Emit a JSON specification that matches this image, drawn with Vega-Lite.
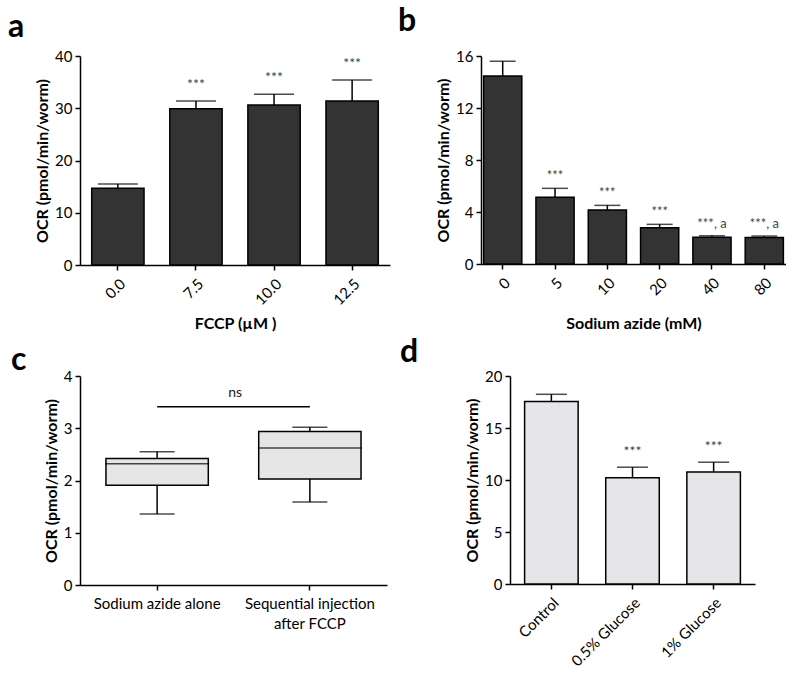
{
  "$schema": "https://vega.github.io/schema/vega-lite/v6.json",
  "background": "white",
  "padding": {"left": 8, "top": 5, "right": 0, "bottom": 0},
  "config": {
    "view": {"stroke": null},
    "font": "Lato",
    "axis": {"domainColor": "black", "domainWidth": 1.5, "tickColor": "black", "tickWidth": 1.5, "tickSize": 5, "labelFont": "Lato", "labelFontSize": 15, "labelColor": "black", "titleFont": "Lato", "titleFontSize": 16, "titleFontWeight": "bold", "titleColor": "black", "grid": false, "labelPadding": 3, "titlePadding": 4},
    "title": {"font": "Lato", "fontSize": 32, "fontWeight": "bold", "anchor": "start", "color": "black", "frame": "group"}
  },
  "spacing": 4,
  "align": "none",
  "vconcat": [
    {
      "spacing": 8,
      "align": "none",
      "hconcat": [
        {
          "width": 310, "height": 209,
          "title": {"text": "a", "dx": -72, "offset": 5},
          "data": {"values": [
            {"fccp": "0.0", "ocr": 14.7, "err": 15.5, "sig": ""},
            {"fccp": "7.5", "ocr": 29.9, "err": 31.4, "sig": "***"},
            {"fccp": "10.0", "ocr": 30.6, "err": 32.7, "sig": "***"},
            {"fccp": "12.5", "ocr": 31.4, "err": 35.4, "sig": "***"}
          ]},
          "encoding": {"x": {"field": "fccp", "type": "ordinal", "sort": null, "scale": {"paddingInner": 0.33, "paddingOuter": 0.15}, "axis": {"labelAngle": -45, "labelPadding": 6, "title": "FCCP (µM )", "titlePadding": 8}}},
          "layer": [
            {"mark": {"type": "bar", "fill": "#333333", "stroke": "black", "strokeWidth": 1.5}, "encoding": {"y": {"field": "ocr", "type": "quantitative", "scale": {"domain": [0, 40]}, "title": "OCR (pmol/min/worm)", "axis": {"values": [0, 10, 20, 30, 40]}}}},
            {"mark": {"type": "rule", "strokeWidth": 1.5, "color": "black"}, "encoding": {"y": {"field": "ocr", "type": "quantitative", "title": "OCR (pmol/min/worm)"}, "y2": {"field": "err"}}},
            {"mark": {"type": "tick", "thickness": 1.5, "size": 40, "color": "black"}, "encoding": {"y": {"field": "err", "type": "quantitative", "title": "OCR (pmol/min/worm)"}}},
            {"mark": {"type": "text", "dy": -16, "fontSize": 14, "color": "#444444", "baseline": "middle"}, "encoding": {"y": {"field": "err", "type": "quantitative", "title": "OCR (pmol/min/worm)"}, "text": {"field": "sig"}}}
          ]
        },
        {
          "width": 305, "height": 208,
          "title": {"text": "b", "dx": -83, "offset": 5},
          "data": {"values": [
            {"azide": "0", "ocr": 14.46, "err": 15.6, "sig": ""},
            {"azide": "5", "ocr": 5.13, "err": 5.82, "sig": "***"},
            {"azide": "10", "ocr": 4.15, "err": 4.51, "sig": "***"},
            {"azide": "20", "ocr": 2.79, "err": 3.05, "sig": "***"},
            {"azide": "40", "ocr": 2.05, "err": 2.17, "sig": "***, a"},
            {"azide": "80", "ocr": 2.03, "err": 2.15, "sig": "***, a"}
          ]},
          "encoding": {"x": {"field": "azide", "type": "ordinal", "sort": null, "scale": {"paddingInner": 0.27, "paddingOuter": 0.05}, "axis": {"labelAngle": -45, "labelPadding": 6, "title": "Sodium azide (mM)", "titlePadding": 18}}},
          "layer": [
            {"mark": {"type": "bar", "fill": "#333333", "stroke": "black", "strokeWidth": 1.5}, "encoding": {"y": {"field": "ocr", "type": "quantitative", "scale": {"domain": [0, 16]}, "title": "OCR (pmol/min/worm)", "axis": {"values": [0, 4, 8, 12, 16]}}}},
            {"mark": {"type": "rule", "strokeWidth": 1.5, "color": "black"}, "encoding": {"y": {"field": "ocr", "type": "quantitative", "title": "OCR (pmol/min/worm)"}, "y2": {"field": "err"}}},
            {"mark": {"type": "tick", "thickness": 1.5, "size": 26, "color": "black"}, "encoding": {"y": {"field": "err", "type": "quantitative", "title": "OCR (pmol/min/worm)"}}},
            {"mark": {"type": "text", "dy": -12, "fontSize": 13, "color": "#444444", "baseline": "middle"}, "encoding": {"y": {"field": "err", "type": "quantitative", "title": "OCR (pmol/min/worm)"}, "text": {"field": "sig"}}}
          ]
        }
      ]
    },
    {
      "spacing": 13,
      "align": "none",
      "hconcat": [
        {
          "width": 307, "height": 209,
          "title": {"text": "c", "dx": -69, "offset": -8},
          "layer": [
            {
              "data": {"values": [
                {"g": "Sodium azide alone", "lo": 1.36, "q1": 1.91, "med": 2.32, "q3": 2.42, "hi": 2.55},
                {"g": "Sequential injection|after FCCP", "lo": 1.59, "q1": 2.03, "med": 2.62, "q3": 2.94, "hi": 3.02}
              ]},
              "encoding": {"x": {"field": "g", "type": "nominal", "sort": null, "title": null, "scale": {"paddingInner": 0.33, "paddingOuter": 0.17}, "axis": {"labelAngle": 0, "labelFontSize": 15, "labelExpr": "split(datum.value, '|')", "labelLineHeight": 20, "labelPadding": 6}}},
              "layer": [
                {"mark": {"type": "rule", "strokeWidth": 1.5, "color": "black"}, "encoding": {"y": {"field": "lo", "type": "quantitative", "scale": {"domain": [0, 4]}, "title": "OCR (pmol/min/worm)", "axis": {"values": [0, 1, 2, 3, 4], "format": "d"}}, "y2": {"field": "q1"}}},
                {"mark": {"type": "rule", "strokeWidth": 1.5, "color": "black"}, "encoding": {"y": {"field": "q3", "type": "quantitative", "title": "OCR (pmol/min/worm)"}, "y2": {"field": "hi"}}},
                {"mark": {"type": "bar", "fill": "#e6e6e6", "stroke": "black", "strokeWidth": 1.5}, "encoding": {"y": {"field": "q1", "type": "quantitative", "title": "OCR (pmol/min/worm)"}, "y2": {"field": "q3"}}},
                {"mark": {"type": "tick", "thickness": 1.5, "size": 104, "color": "black"}, "encoding": {"y": {"field": "med", "type": "quantitative", "title": "OCR (pmol/min/worm)"}}},
                {"mark": {"type": "tick", "thickness": 1.5, "size": 35, "color": "black"}, "encoding": {"y": {"field": "lo", "type": "quantitative", "title": "OCR (pmol/min/worm)"}}},
                {"mark": {"type": "tick", "thickness": 1.5, "size": 35, "color": "black"}, "encoding": {"y": {"field": "hi", "type": "quantitative", "title": "OCR (pmol/min/worm)"}}}
              ]
            },
            {
              "data": {"values": [
                {"from": "Sodium azide alone", "to": "Sequential injection|after FCCP", "y": 3.41, "ly": 3.68, "label": "ns"}
              ]},
              "layer": [
                {"mark": {"type": "rule", "strokeWidth": 1.5, "color": "black"}, "encoding": {"x": {"field": "from", "type": "nominal", "sort": null, "title": null}, "x2": {"field": "to"}, "y": {"field": "y", "type": "quantitative", "title": "OCR (pmol/min/worm)"}}},
                {"mark": {"type": "text", "fontSize": 14, "dx": 78, "color": "#222222", "baseline": "middle"}, "encoding": {"x": {"field": "from", "type": "nominal", "sort": null, "title": null}, "y": {"field": "ly", "type": "quantitative", "title": "OCR (pmol/min/worm)"}, "text": {"field": "label"}}}
              ]
            }
          ]
        },
        {
          "width": 245, "height": 208,
          "title": {"text": "d", "dx": -110, "offset": 0},
          "data": {"values": [
            {"cond": "Control", "ocr": 17.54, "err": 18.24, "sig": ""},
            {"cond": "0.5% Glucose", "ocr": 10.21, "err": 11.23, "sig": "***"},
            {"cond": "1% Glucose", "ocr": 10.78, "err": 11.71, "sig": "***"}
          ]},
          "encoding": {"x": {"field": "cond", "type": "nominal", "sort": null, "title": null, "scale": {"paddingInner": 0.34, "paddingOuter": 0.18}, "axis": {"labelAngle": -45, "labelPadding": 6}}},
          "layer": [
            {"mark": {"type": "bar", "fill": "#e6e6e8", "stroke": "black", "strokeWidth": 1.5}, "encoding": {"y": {"field": "ocr", "type": "quantitative", "scale": {"domain": [0, 20]}, "title": "OCR (pmol/min/worm)", "axis": {"values": [0, 5, 10, 15, 20]}}}},
            {"mark": {"type": "rule", "strokeWidth": 1.5, "color": "black"}, "encoding": {"y": {"field": "ocr", "type": "quantitative", "title": "OCR (pmol/min/worm)"}, "y2": {"field": "err"}}},
            {"mark": {"type": "tick", "thickness": 1.5, "size": 31, "color": "black"}, "encoding": {"y": {"field": "err", "type": "quantitative", "title": "OCR (pmol/min/worm)"}}},
            {"mark": {"type": "text", "dy": -15, "fontSize": 14, "color": "#444444", "baseline": "middle"}, "encoding": {"y": {"field": "err", "type": "quantitative", "title": "OCR (pmol/min/worm)"}, "text": {"field": "sig"}}}
          ]
        }
      ]
    }
  ]
}
